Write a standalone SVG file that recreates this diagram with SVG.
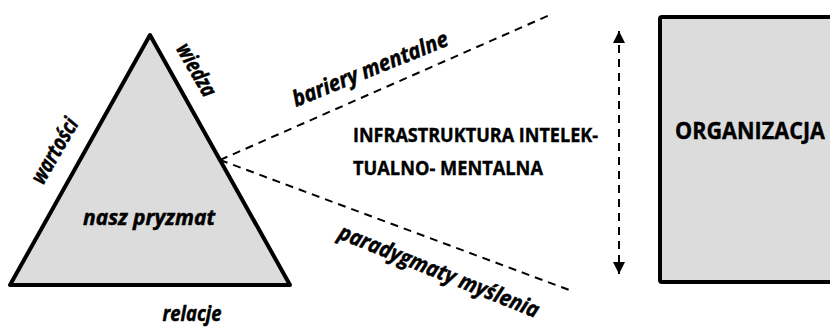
<svg xmlns="http://www.w3.org/2000/svg" width="830" height="329" viewBox="0 0 830 329">
<style>
.shape{fill:#dcdcdc;stroke:#000;stroke-width:4;stroke-linejoin:round}
.dash{fill:none;stroke:#000;stroke-width:2;stroke-dasharray:8 6}
.it{font-family:"Open Sans",Lato,"Liberation Sans",sans-serif;font-style:italic;font-weight:bold;font-size:22px;fill:#000;stroke:#000;stroke-width:0.5}
.up{font-family:"Open Sans",Lato,"Liberation Sans",sans-serif;font-weight:bold;font-size:19.5px;fill:#000;stroke:#000;stroke-width:0.4}
</style>
<defs>
<marker id="ah" viewBox="0 0 10 10" refX="10" refY="5" markerWidth="6" markerHeight="6.5" orient="auto-start-reverse" markerUnits="strokeWidth">
<path d="M0,0 L10,5 L0,10 z" fill="#000"/>
</marker>
</defs>
<g id="pryzmat">
<polygon class="shape" points="150,35 10,285 290,285"/>
<text class="it" x="149" y="225" text-anchor="middle" textLength="132" lengthAdjust="spacingAndGlyphs">nasz pryzmat</text>
</g>
<g id="organizacja">
<rect class="shape" x="660" y="17" width="190" height="265" rx="2"/>
<text class="up" style="font-size:22.5px" x="675" y="139" textLength="150" lengthAdjust="spacingAndGlyphs">ORGANIZACJA</text>
</g>
<g id="labels">
<text class="it" transform="translate(196,70) rotate(60)" x="0" y="7" text-anchor="middle" textLength="58" lengthAdjust="spacingAndGlyphs">wiedza</text>
<text class="it" transform="translate(55,151) rotate(-60)" x="0" y="7" text-anchor="middle" textLength="72" lengthAdjust="spacingAndGlyphs">wartości</text>
<text class="it" x="192" y="321" text-anchor="middle" textLength="59" lengthAdjust="spacingAndGlyphs">relacje</text>
<text class="it" transform="translate(296,107) rotate(-22)" x="0" y="0" textLength="166" lengthAdjust="spacingAndGlyphs">bariery mentalne</text>
<text class="it" transform="translate(337,238) rotate(22)" x="0" y="0" textLength="214" lengthAdjust="spacingAndGlyphs">paradygmaty myślenia</text>
<text class="up" x="353" y="142" textLength="245" lengthAdjust="spacingAndGlyphs">INFRASTRUKTURA  INTELEK-</text>
<text class="up" x="353" y="175" textLength="190" lengthAdjust="spacingAndGlyphs">TUALNO- MENTALNA</text>
</g>
<g id="connectors">
<line class="dash" x1="220" y1="160" x2="552" y2="14"/>
<line class="dash" x1="220" y1="160" x2="572" y2="291"/>
<line class="dash" x1="619" y1="31" x2="619" y2="274" marker-start="url(#ah)" marker-end="url(#ah)"/>
</g>
</svg>
